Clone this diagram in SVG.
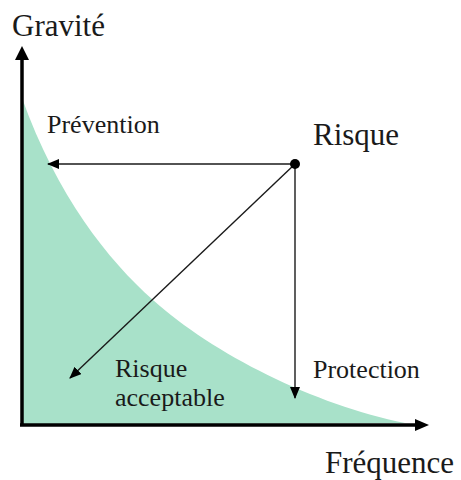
<svg xmlns="http://www.w3.org/2000/svg" width="461" height="480" viewBox="0 0 461 480">
<style>
text{font-family:"Liberation Serif","Times New Roman",serif;fill:#1a1a1a}
.big{font-size:31px}
.sm{font-size:26px}
.axis{stroke:#000;stroke-width:3.5;fill:none}
.conn{stroke:#1a1a1a;stroke-width:1.4;fill:none}
</style>
<defs>
<marker id="ah" viewBox="0 0 12 10" refX="11" refY="5" markerWidth="12" markerHeight="10" markerUnits="userSpaceOnUse" orient="auto">
<path d="M0,0 L12,5 L0,10 Z" fill="#000"/>
</marker>
</defs>
<g id="zone">
<path d="M22,98 C57,196 108,260 153,300 C213,354 315,405 405,423 L22,425 Z" fill="#a8e1c9"/>
</g>
<g id="axes">
<line class="axis" x1="22" y1="425" x2="22" y2="58"/>
<path d="M15,60 L22,46 L29,60 Z" fill="#000"/>
<line class="axis" x1="20" y1="425" x2="416" y2="425"/>
<path d="M415,419 L429,425 L415,431 Z" fill="#000"/>
</g>
<g id="connectors">
<line class="conn" x1="295" y1="164" x2="48" y2="164" marker-end="url(#ah)"/>
<line class="conn" x1="295" y1="164" x2="295" y2="398" marker-end="url(#ah)"/>
<line class="conn" x1="295" y1="164" x2="70" y2="378" marker-end="url(#ah)"/>
</g>
<g id="risque">
<circle cx="295" cy="164" r="5" fill="#000"/>
<text class="big" x="313" y="145">Risque</text>
</g>
<g id="labels">
<text class="big" x="12" y="36">Gravité</text>
<text class="big" x="325" y="473">Fréquence</text>
<text class="sm" x="47" y="133">Prévention</text>
<text class="sm" x="313" y="378">Protection</text>
<text class="sm" x="115" y="377">Risque</text>
<text class="sm" x="115" y="406">acceptable</text>
</g>
</svg>
